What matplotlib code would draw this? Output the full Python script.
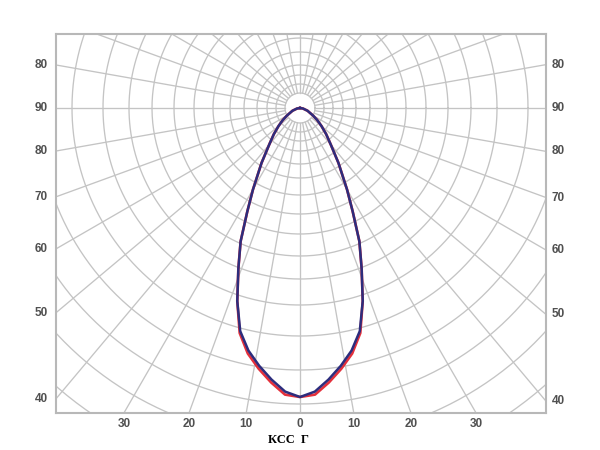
import numpy as np
import matplotlib.pyplot as plt

# Сетка: радиусы окружностей (в пикселях от полюса) и шаг лучей
rings = [15, 24, 33, 43, 56, 70, 87, 106, 126, 148, 171, 197, 228, 262, 296, 332, 370, 410]
ray_step = 10

# подписи
side_angles = [40, 50, 60, 70, 80, 90, 100]
bottom_angles = [-30, -20, -10, 0, 10, 20, 30]

# КСС: угол гамма (от надира) и длина радиус-вектора
gamma = [0, 3, 6, 9, 12, 15, 18, 21, 24, 27, 30, 35, 40, 45, 50, 55, 60, 70, 80, 90]
r_blue = [289, 284, 273, 261, 248, 231, 203, 172, 146, 116, 94, 67, 48, 37, 28, 21, 15, 8, 3, 0]
r_red = [289, 287, 276, 264, 251, 233, 203, 172, 146, 116, 94, 67, 48, 37, 28, 21, 15, 8, 3, 0]

# границы рамки относительно полюса
x_left, x_right = -244, 246
y_bottom, y_top = -305, 74

fig = plt.figure(figsize=(6, 4.5), dpi=100)
ax = fig.add_axes([56 / 600, 37 / 450, 490 / 600, 379 / 450])
ax.set_xlim(x_left, x_right)
ax.set_ylim(y_bottom, y_top)
ax.set_aspect('equal')
ax.set_xticks([])
ax.set_yticks([])
for s in ax.spines.values():
    s.set_color('#b8b8b8')
    s.set_linewidth(1.5)

grid_col = '#c4c4c4'
t = np.linspace(0, 2 * np.pi, 400)
for r in rings:
    ax.plot(r * np.cos(t), r * np.sin(t), color=grid_col, lw=0.95, zorder=1)
for a in range(0, 360, ray_step):
    g = np.radians(a)
    ax.plot([rings[0] * np.sin(g), 600 * np.sin(g)],
            [-rings[0] * np.cos(g), -600 * np.cos(g)],
            color=grid_col, lw=0.95, zorder=1)


def curve(vals):
    g = np.radians(np.r_[-np.array(gamma[::-1]), np.array(gamma[1:])])
    r = np.r_[np.array(vals[::-1]), np.array(vals[1:])]
    return r * np.sin(g), -r * np.cos(g)


xr, yr = curve(r_red)
ax.plot(xr, yr, color='#e3303b', lw=1.9, zorder=3)
xb, yb = curve(r_blue)
ax.plot(xb, yb, color='#2d2d7d', lw=1.8, zorder=4)

lab = dict(fontsize=8.5, fontweight='bold', color='#505050',
           family='Liberation Sans', clip_on=False)
for a in side_angles:
    g = np.radians(a)
    yl = x_left * np.cos(g) / np.sin(g)
    yrr = -x_right * np.cos(g) / np.sin(g)
    txt = str(a if a <= 90 else 180 - a)
    ax.text(x_left - 8, yl, txt, ha='right', va='center', **lab)
    ax.text(x_right + 6, yrr, txt, ha='left', va='center', **lab)
for a in bottom_angles:
    xb0 = -y_bottom * np.tan(np.radians(a))
    ax.text(xb0, y_bottom - 5, str(abs(a)), ha='center', va='top', **lab)

ax.text(-12, y_bottom - 21, 'КСС  Г', ha='center', va='top', fontsize=9,
        fontweight='bold', family='Liberation Serif', color='black', clip_on=False)

fig.savefig('out.png', dpi=100, facecolor='white')
